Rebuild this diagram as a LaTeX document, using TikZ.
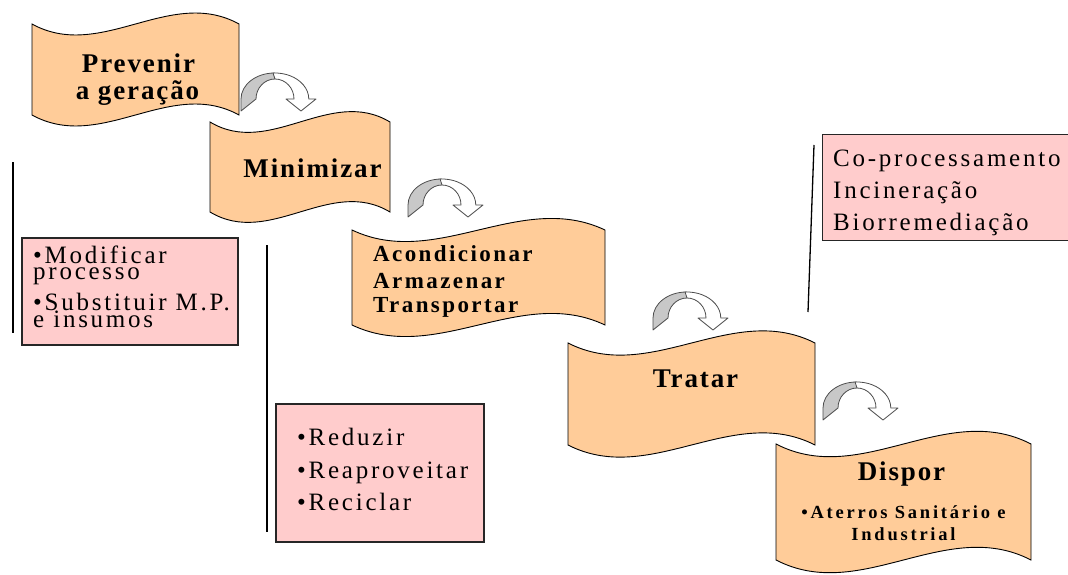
\documentclass[tikz,border=0pt]{standalone}
\usepackage{fontspec}
\setmainfont{Liberation Serif}
\definecolor{peach}{RGB}{255,204,153}
\definecolor{pinkfill}{RGB}{255,204,204}
\definecolor{arrowgray}{RGB}{200,200,200}

% wave-shaped banner: left x, right x, top y, bottom y, wave depth
\newcommand\wavebanner[5]{%
  \path[banner] (#1,#3)
    .. controls ({#1+(#2-#1)/3},{#3+#5}) and ({#1+2*(#2-#1)/3},{#3-#5}) .. (#2,#3)
    -- (#2,#4)
    .. controls ({#1+2*(#2-#1)/3},{#4-#5}) and ({#1+(#2-#1)/3},{#4+#5}) .. (#1,#4)
    -- cycle;}

\tikzset{
  banner/.style={fill=peach, draw=black, line width=0.9pt},
  listbox/.style={fill=pinkfill, draw=black!85, line width=1.3pt, inner sep=0pt},
  listedge/.style={draw=black!85, line width=1.3pt},
  turnback/.style={fill=arrowgray, draw=black!70, line width=0.8pt, line join=round},
  turnfront/.style={fill=white, draw=black!70, line width=0.8pt, line join=round},
  guide/.style={draw=black, line width=1.3pt},
  title/.style={font={\bfseries\fontsize{27}{29}\selectfont\addfontfeatures{LetterSpace=7}}, inner sep=0pt, anchor=base},
  midtitle/.style={font={\bfseries\fontsize{23}{25}\selectfont\addfontfeatures{LetterSpace=10.5}}, inner sep=0pt, anchor=base west},
  subtitle/.style={font={\bfseries\fontsize{18.5}{20}\selectfont\addfontfeatures{LetterSpace=15}}, inner sep=0pt, anchor=base},
  item/.style={font={\fontsize{25}{27}\selectfont\addfontfeatures{LetterSpace=11}}, inner sep=0pt, anchor=base west},
  % curved turn arrow, origin at the bottom-left of its foot
  turnarrow/.pic={
    \path[turnback] (0,0) -- (0,-12)
      arc[start angle=180, end angle=270, x radius=33.5, y radius=26]
      -- (34,-32) arc[start angle=270, end angle=180, x radius=19, y radius=20]
      -- (15,-12) -- cycle;
    \path[turnfront] (32,-38)
      arc[start angle=267, end angle=360, x radius=34, y radius=26]
      -- (75,-12) -- (60,0) -- (45,-12) -- (53,-12)
      arc[start angle=360, end angle=270, x radius=19, y radius=20]
      -- cycle;
  }
}

\begin{document}
\begin{tikzpicture}[x=1pt, y=-1pt]
\useasboundingbox (0,0) rectangle (1068,575);

% banners
\wavebanner{32}{239}{24}{115}{38}
\wavebanner{210}{390}{122}{212}{36}
\wavebanner{352}{605}{230}{325}{40}
\wavebanner{568}{815}{343}{445}{42}
\wavebanner{776}{1031}{444}{560}{44}

% turn arrows between the steps
\pic (turnA) at (241,111) {turnarrow};
\pic (turnB) at (408,217) {turnarrow};
\pic (turnC) at (653,330) {turnarrow};
\pic (turnD) at (823,420) {turnarrow};

% step titles
\node[title] (prevenir) at (138.5,73) {Prevenir};
\node[title] (geracao) at (137.5,100) {a geração};
\node[title] (minimizar) at (312.5,178) {Minimizar};
\node[midtitle] (acond) at (373,261) {Acondicionar};
\node[midtitle] (armaz) at (373,288) {Armazenar};
\node[midtitle] (transp) at (373,312) {Transportar};
\node[title] (tratar) at (695.5,387) {Tratar};
\node[title] (dispor) at (901.5,480) {Dispor};
\node[subtitle] (aterros) at (903.5,518) {•Aterros Sanitário e};
\node[subtitle] (industrial) at (903.5,540) {Industrial};

% guide lines
\coordinate (gA1) at (13,162);  \coordinate (gA2) at (13,333);
\coordinate (gB1) at (267,245); \coordinate (gB2) at (267,532);
\coordinate (gC1) at (814,145); \coordinate (gC2) at (808,312);
\draw[guide] (gA1) -- (gA2);
\draw[guide] (gB1) -- (gB2);
\draw[guide] (gC1) -- (gC2);

% option boxes
\node[listbox, minimum width=216pt, minimum height=107pt] (box1) at (130,291.5) {};
\node[item] (mod) at (33,263) {•Modificar};
\node[item] (proc) at (33,279) {processo};
\node[item] (subs) at (33,310) {•Substituir M.P.};
\node[item] (insu) at (33,327) {e insumos};

\node[listbox, minimum width=208pt, minimum height=138pt] (box2) at (380,473) {};
\node[item] (redu) at (297,445) {•Reduzir};
\node[item] (reap) at (297,478) {•Reaproveitar};
\node[item] (reci) at (297,510) {•Reciclar};

\node[listbox, draw=none, minimum width=245pt, minimum height=105pt] (box3) at (945.5,187.5) {};
\draw[listedge] (box3.north east) -- (box3.north west) -- (box3.south west) -- (box3.south east);
\node[item] (copro) at (833,167) {Co-processamento};
\node[item] (incin) at (833,198) {Incineração};
\node[item] (biorr) at (833,230) {Biorremediação};
\end{tikzpicture}
\end{document}
